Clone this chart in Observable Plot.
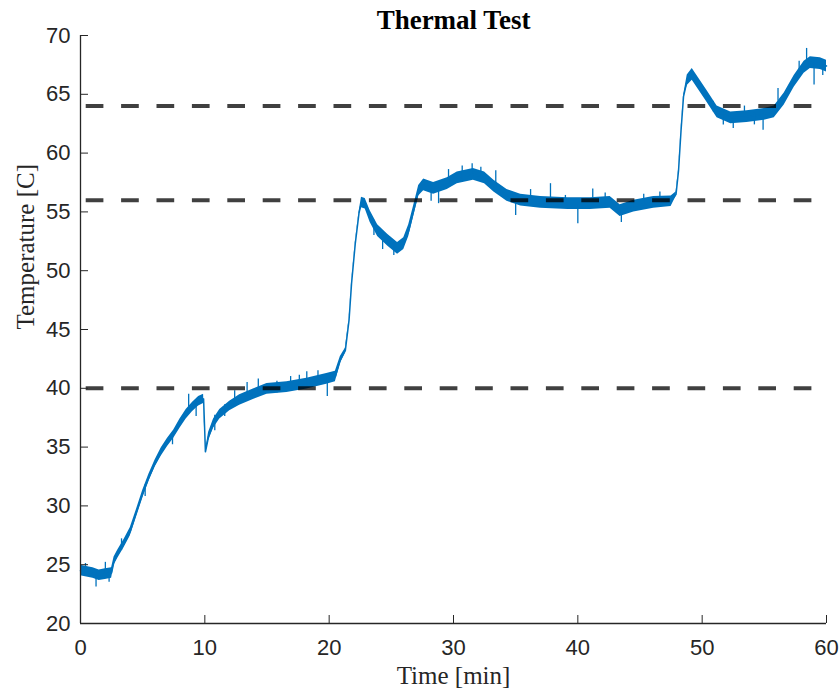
<!DOCTYPE html>
<html>
<head>
<meta charset="utf-8">
<script src="https://cdn.jsdelivr.net/npm/d3@7"></script>
<script src="https://cdn.jsdelivr.net/npm/@observablehq/plot@0.6"></script>
<style>
  html, body { margin: 0; padding: 0; background: #fff; }
</style>
</head>
<body>
<div id="chart"></div>
<script>
// Time [min]
const time = [0, 0.5, 1, 1.5, 2, 2.5, 2.7, 3.0, 3.5, 4.0, 4.5, 5.0, 5.5, 6.0, 6.5, 7.0, 7.5, 8.0, 8.5, 9.0, 9.5, 9.9,
  10.05, 10.3, 10.7, 11.2, 12.0, 12.8, 13.9, 15.0, 16.6, 18.2, 19.8, 20.5, 20.9, 21.3, 21.6, 21.8, 22.1, 22.4,
  22.6, 22.9, 23.3, 23.9, 24.7, 25.5, 26.0, 26.4, 26.8, 27.2, 27.6, 28.4, 29.5, 30.3, 31.6, 32.5, 33.25, 34.3,
  35.4, 37.0, 39.2, 41.0, 42.6, 43.4, 44.5, 46.1, 47.5, 47.9, 48.1, 48.3, 48.5, 48.8, 49.2, 49.7, 50.4, 51.2,
  52.3, 53.6, 55.0, 55.8, 56.6, 57.4, 58.2, 58.7, 59.5, 60.0];
// Temperature [C] (centre of the noisy trace)
const temperature = [24.5, 24.4, 24.3, 24.1, 24.2, 24.3, 25.3, 25.9, 26.8, 27.8, 29.4, 31.0, 32.4, 33.6, 34.6, 35.4, 36.1, 37.0, 37.8, 38.4, 38.9, 39.1,
  34.6, 35.9, 37.0, 37.8, 38.5, 39.0, 39.5, 39.95, 40.1, 40.4, 40.8, 41.0, 42.4, 43.2, 45.8, 48.9, 52.3, 54.9,
  55.8, 55.7, 54.6, 53.4, 52.6, 51.9, 52.3, 53.4, 55.1, 56.8, 57.3, 57.0, 57.4, 57.9, 58.2, 57.9, 57.2, 56.4,
  56.0, 55.8, 55.7, 55.7, 55.8, 55.1, 55.5, 55.8, 55.9, 56.5, 58.5, 61.9, 64.8, 66.2, 66.7, 65.9, 64.8, 63.5,
  63.0, 63.1, 63.3, 63.5, 64.6, 66.1, 67.3, 67.7, 67.6, 67.4];
// Half-width of the noise band around the trace [C]
const noise = [0.45, 0.45, 0.45, 0.45, 0.45, 0.45, 0.35, 0.35, 0.35, 0.35, 0.3, 0.3, 0.3, 0.3, 0.35, 0.35, 0.35, 0.4, 0.4, 0.4, 0.4, 0.4,
  0.1, 0.35, 0.4, 0.4, 0.4, 0.45, 0.45, 0.45, 0.45, 0.45, 0.45, 0.45, 0.3, 0.2, 0.1, 0.1, 0.1, 0.1,
  0.45, 0.45, 0.5, 0.5, 0.5, 0.5, 0.5, 0.5, 0.45, 0.45, 0.5, 0.5, 0.5, 0.5, 0.5, 0.5, 0.5, 0.5,
  0.5, 0.5, 0.5, 0.5, 0.5, 0.5, 0.5, 0.5, 0.45, 0.2, 0.1, 0.1, 0.1, 0.45, 0.5, 0.5, 0.5, 0.5,
  0.5, 0.5, 0.5, 0.5, 0.5, 0.5, 0.5, 0.5, 0.5, 0.5];
// Individual noise spikes: time, low, high
const spikeTime = [0.4, 1.25, 2.0, 2.3, 3.3, 5.2, 7.4, 8.7, 9.3, 10.8, 11.6, 12.4, 13.4, 14.3, 15.8, 16.9, 17.6, 18.2, 19.1, 19.85,
  23.6, 24.3, 25.2, 28.2, 28.8, 29.6, 30.7, 31.5, 32.2, 33.4, 35.0, 36.2, 37.8, 39.0, 40.0, 41.2, 42.2, 43.5, 45.3, 46.6,
  50.9, 51.7, 52.5, 53.4, 54.2, 54.9, 56.1, 57.8, 58.4, 59.0, 59.7];
const spikeLow  = [24.0, 23.1, 24.2, 23.5, 26.2, 30.8, 35.2, 38.0, 37.6, 36.4, 37.6, 38.7, 39.3, 39.7, 39.6, 39.8, 40.2, 40.2, 40.6, 39.3,
  53.0, 51.8, 51.3, 55.9, 55.7, 57.4, 57.8, 58.2, 57.8, 57.2, 54.7, 55.9, 55.8, 55.7, 54.0, 55.7, 55.8, 54.1, 55.5, 55.8,
  63.5, 62.4, 62.1, 63.1, 62.4, 61.95, 64.4, 66.8, 67.3, 65.8, 66.6];
const spikeHigh = [25.1, 24.3, 25.2, 24.4, 27.2, 31.8, 36.2, 39.5, 38.9, 37.7, 38.6, 39.8, 40.5, 40.8, 40.6, 41.0, 41.1, 41.4, 41.5, 40.8,
  54.3, 53.2, 52.3, 57.2, 57.0, 58.6, 58.9, 59.1, 58.8, 58.5, 56.1, 56.9, 57.4, 56.4, 55.7, 56.95, 56.6, 55.2, 56.5, 56.7,
  64.4, 63.6, 63.0, 64.0, 63.4, 63.3, 65.5, 67.8, 68.9, 67.6, 67.5];
// Reference levels (dashed)
const thresholds = [40, 56, 64];
const xTicks = [0, 10, 20, 30, 40, 50, 60];
const yTicks = [20, 25, 30, 35, 40, 45, 50, 55, 60, 65, 70];

const trace = time.map((t, i) => ({t, T: temperature[i], h: noise[i]}));
const spikes = spikeTime.map((t, i) => ({t, lo: spikeLow[i], hi: spikeHigh[i]}));

const blue = "#0072BD";
const axisColor = "#262626";
const sans = "'Liberation Sans', Arial, Helvetica, sans-serif";
const serif = "'Liberation Serif', 'Times New Roman', serif";

const chart = Plot.plot({
  width: 839,
  height: 694,
  marginLeft: 80,
  marginRight: 13,
  marginTop: 35,
  marginBottom: 71,
  style: {background: "#fff", overflow: "visible"},
  x: {domain: [0, 60], ticks: xTicks},
  y: {domain: [20, 70], ticks: yTicks},
  marks: [
    Plot.areaY(trace, {x: "t", y1: d => d.T - d.h, y2: d => d.T + d.h, fill: blue, curve: "linear"}),
    Plot.lineY(trace, {x: "t", y: "T", stroke: blue, strokeWidth: 1.5}),
    Plot.ruleX(spikes, {x: "t", y1: "lo", y2: "hi", stroke: blue, strokeWidth: 1.3}),
    Plot.ruleY(thresholds, {stroke: "#000", strokeOpacity: 0.75, strokeWidth: 4,
      strokeDasharray: "17.7,17.7", strokeDashoffset: 29.7}),
    Plot.ruleX([0], {stroke: axisColor, strokeWidth: 1.3}),
    Plot.ruleY([20], {stroke: axisColor, strokeWidth: 1.3}),
    Plot.axisY(yTicks, {anchor: "left", tickSize: -8, tickPadding: 18, stroke: axisColor, color: axisColor,
      fontSize: 22, fontFamily: sans, label: null}),
    Plot.axisX(xTicks, {anchor: "bottom", tickSize: -8, tickPadding: 24, stroke: axisColor, color: axisColor,
      fontSize: 22, fontFamily: sans, label: null}),
    Plot.text(["Thermal Test"], {frameAnchor: "top", lineAnchor: "bottom", dy: -7, fontSize: 27,
      fontWeight: "bold", fontFamily: serif, fill: "#000"}),
    Plot.text(["Time [min]"], {frameAnchor: "bottom", lineAnchor: "bottom", dy: 60, fontSize: 25,
      fontFamily: serif, fill: axisColor}),
    Plot.text(["Temperature [C]"], {frameAnchor: "left", rotate: -90, lineAnchor: "bottom", dx: -47, fontSize: 25,
      fontFamily: serif, fill: axisColor})
  ]
});
document.getElementById("chart").appendChild(chart);
</script>
</body>
</html>
